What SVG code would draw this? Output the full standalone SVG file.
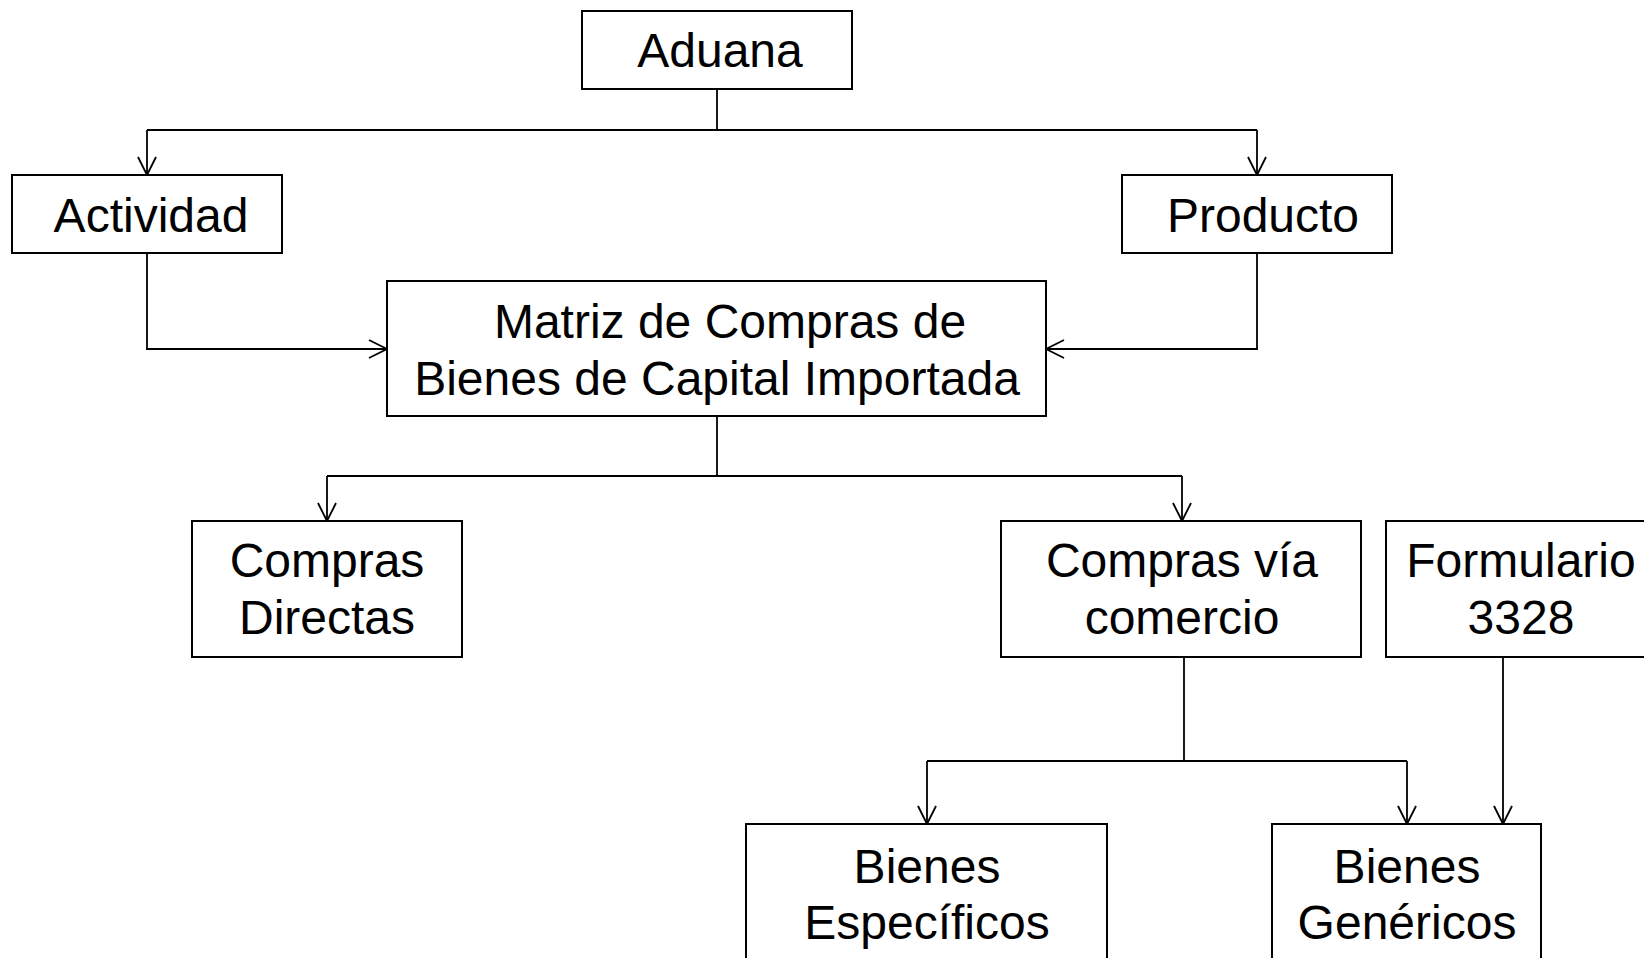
<svg xmlns="http://www.w3.org/2000/svg" width="1644" height="958" viewBox="0 0 1644 958">
<style>
.box{fill:#fff;stroke:#000;stroke-width:2}
.t{font-family:"Liberation Sans",Arial,sans-serif;font-size:48px;fill:#000;text-anchor:middle}
.c{fill:none;stroke:#000;stroke-width:1.8}
</style>
<defs>
<marker id="arr" markerUnits="userSpaceOnUse" markerWidth="24" markerHeight="24" viewBox="-21 -12 24 24" refX="0" refY="0" orient="auto">
<path d="M-18,-9 L0,0 L-18,9" fill="none" stroke="#000" stroke-width="1.8"/>
</marker>
</defs>
<rect width="1644" height="958" fill="#fff"/>
<g id="connectors">
<path class="c" d="M717,89 V130"/>
<path class="c" d="M147,130 H1257"/>
<path class="c" d="M147,130 V175" marker-end="url(#arr)"/>
<path class="c" d="M1257,130 V175" marker-end="url(#arr)"/>
<path class="c" d="M147,253 V349 H387" marker-end="url(#arr)"/>
<path class="c" d="M1257,253 V349 H1046" marker-end="url(#arr)"/>
<path class="c" d="M717,416 V476"/>
<path class="c" d="M327,476 H1182"/>
<path class="c" d="M327,476 V521" marker-end="url(#arr)"/>
<path class="c" d="M1182,476 V521" marker-end="url(#arr)"/>
<path class="c" d="M1184,657 V761"/>
<path class="c" d="M927,761 H1407"/>
<path class="c" d="M927,761 V824" marker-end="url(#arr)"/>
<path class="c" d="M1407,761 V824" marker-end="url(#arr)"/>
<path class="c" d="M1503,657 V824" marker-end="url(#arr)"/>
</g>
<g id="aduana"><rect class="box" x="582" y="11" width="270" height="78"/><text class="t" x="720" y="67">Aduana</text></g>
<g id="actividad"><rect class="box" x="12" y="175" width="270" height="78"/><text class="t" x="151" y="232">Actividad</text></g>
<g id="producto"><rect class="box" x="1122" y="175" width="270" height="78"/><text class="t" x="1263" y="232">Producto</text></g>
<g id="matriz"><rect class="box" x="387" y="281" width="659" height="135"/><text class="t" x="730" y="338">Matriz de Compras de</text><text class="t" x="717" y="395">Bienes de Capital Importada</text></g>
<g id="compras-directas"><rect class="box" x="192" y="521" width="270" height="136"/><text class="t" x="327" y="577">Compras</text><text class="t" x="327" y="634">Directas</text></g>
<g id="compras-via-comercio"><rect class="box" x="1001" y="521" width="360" height="136"/><text class="t" x="1182" y="577">Compras vía</text><text class="t" x="1182" y="634">comercio</text></g>
<g id="formulario"><rect class="box" x="1386" y="521" width="270" height="136"/><text class="t" x="1521" y="577">Formulario</text><text class="t" x="1521" y="634">3328</text></g>
<g id="bienes-especificos"><rect class="box" x="746" y="824" width="361" height="150"/><text class="t" x="927" y="883">Bienes</text><text class="t" x="927" y="939">Específicos</text></g>
<g id="bienes-genericos"><rect class="box" x="1272" y="824" width="269" height="150"/><text class="t" x="1407" y="883">Bienes</text><text class="t" x="1407" y="939">Genéricos</text></g>
</svg>
